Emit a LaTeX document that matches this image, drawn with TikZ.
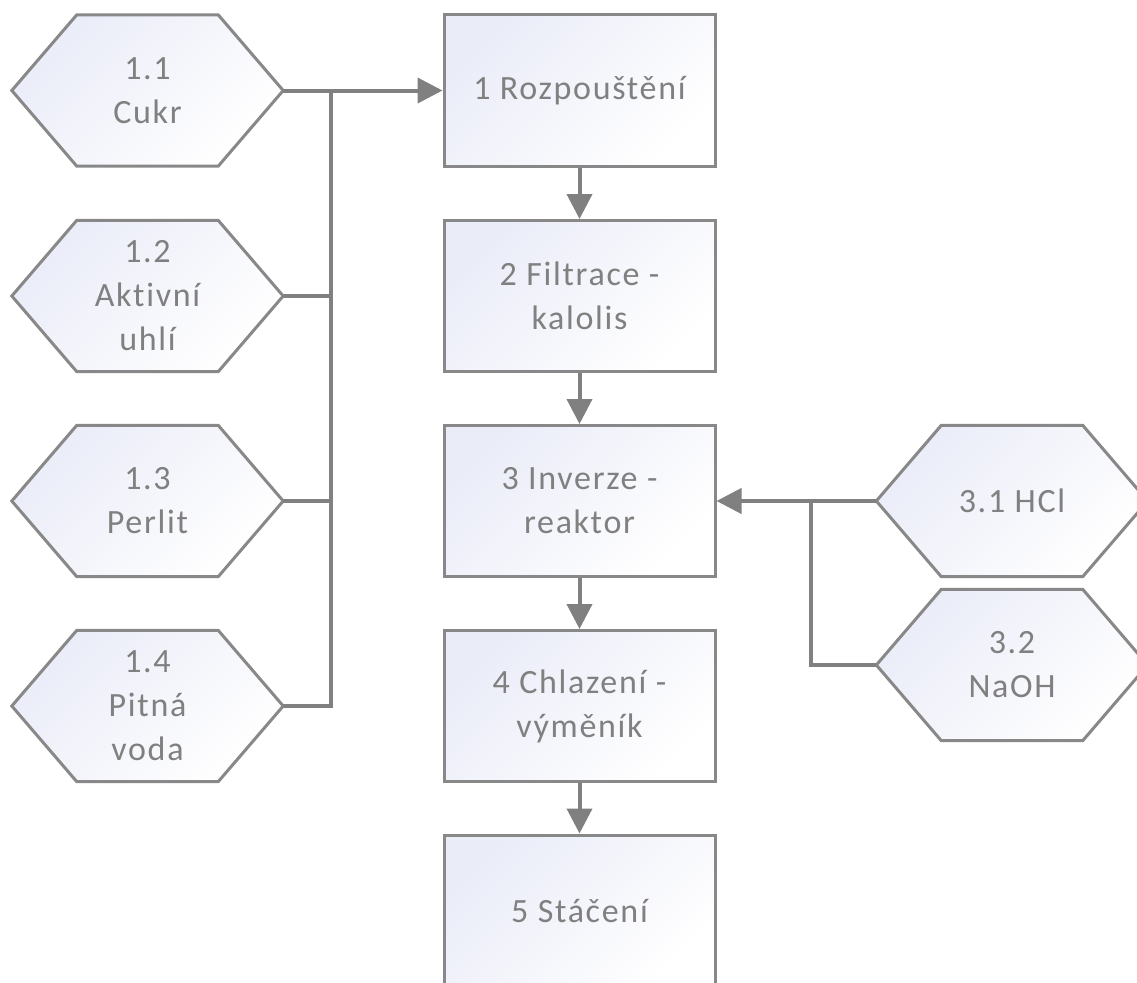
\documentclass[tikz,border=0pt]{standalone}
\usepackage{fontspec}
\setmainfont[LetterSpace=5,Ligatures=NoCommon]{Carlito}
\usetikzlibrary{arrows.meta,backgrounds}
\definecolor{lgray}{RGB}{128,128,128}
\definecolor{bgray}{RGB}{136,136,136}
\definecolor{lav}{RGB}{234,236,248}
\tikzset{
  boxnode/.style={draw=bgray, line width=3pt, top color=lav, bottom color=white, shading angle=45,
    minimum width=271pt, minimum height=151pt, inner sep=0pt, align=center, text=lgray,
    font=\fontsize{34}{44}\selectfont},
  hexnode/.style={minimum width=271pt, minimum height=151pt, inner sep=0pt, align=center, text=lgray,
    font=\fontsize{34}{44}\selectfont},
  hexshape/.style={draw=bgray, line width=3pt, top color=lav, bottom color=white, shading angle=45, line join=miter},
  conn/.style={draw=lgray, line width=4pt},
  arr/.style={conn, -{Triangle[length=25pt,width=25pt]}}
}
\newcommand{\hexpath}[1]{%
  \path[hexshape] (#1.west) -- ([xshift=65pt]#1.north west) -- ([xshift=-65pt]#1.north east)
    -- (#1.east) -- ([xshift=-65pt]#1.south east) -- ([xshift=65pt]#1.south west) -- cycle;}
\begin{document}
\begin{tikzpicture}[x=1pt,y=-1pt]
\useasboundingbox (0,0) rectangle (1137,982);
% process boxes
\node[boxnode] (b1) at (579.5,90.5) {1 Rozpouštění};
\node[boxnode] (b2) at (579.5,296) {2 Filtrace -\\kalolis};
\node[boxnode] (b3) at (579.5,501) {3 Inverze -\\reaktor};
\node[boxnode] (b4) at (579.5,706) {4 Chlazení -\\výměník};
\node[boxnode] (b5) at (579.5,910.5) {5 Stáčení};
% input hexagons
\node[hexnode] (h1) at (147.5,90.5) {1.1\\Cukr};
\node[hexnode] (h2) at (147.5,296) {1.2\\Aktivní\\uhlí};
\node[hexnode] (h3) at (147.5,501) {1.3\\Perlit};
\node[hexnode] (h4) at (147.5,706) {1.4\\Pitná\\voda};
\node[hexnode] (h31) at (1012,501) {3.1 HCl};
\node[hexnode] (h32) at (1012,665) {3.2\\NaOH};
\begin{scope}[on background layer]
\hexpath{h1}\hexpath{h2}\hexpath{h3}\hexpath{h4}\hexpath{h31}\hexpath{h32}
\end{scope}
% bus coordinates
\coordinate (busL) at (331,90.5);
\coordinate (busR) at (811,501);
% connectors
\draw[arr] (h1.east) -- (b1.west);
\draw[conn] (busL) -- (busL |- h4.east) -- (h4.east);
\draw[conn] (h2.east) -- (h2.east -| busL);
\draw[conn] (h3.east) -- (h3.east -| busL);
\draw[arr] (h31.west) -- (b3.east);
\draw[conn] (busR) -- (busR |- h32.west) -- (h32.west);
\draw[arr] (b1.south) -- (b2.north);
\draw[arr] (b2.south) -- (b3.north);
\draw[arr] (b3.south) -- (b4.north);
\draw[arr] (b4.south) -- (b5.north);
\end{tikzpicture}
\end{document}
